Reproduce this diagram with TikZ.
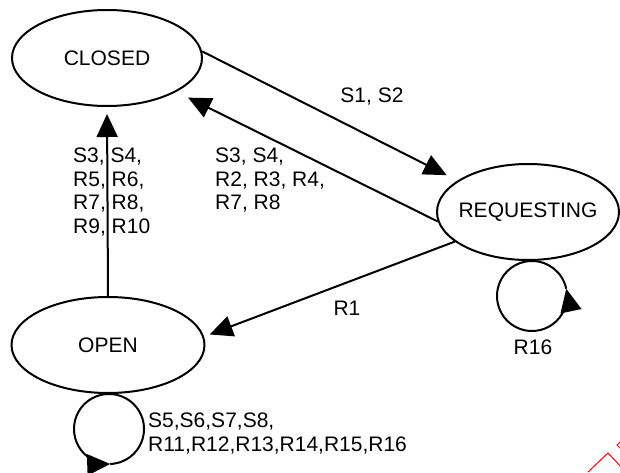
\documentclass[tikz,border=0pt]{standalone}
\usepackage{fontspec}
\setmainfont{Liberation Sans}
\usetikzlibrary{arrows.meta,shapes.geometric,positioning}

\begin{document}
\begin{tikzpicture}[x=1pt, y=1pt,
    font=\fontsize{21}{23.5}\selectfont,
    state/.style={draw, ellipse, line width=2pt, inner sep=0pt, minimum height=96pt},
    trans/.style={line width=2pt, -{Triangle[length=23pt,width=21pt]}},
    lbl/.style={inner sep=0pt, align=left}]
    \useasboundingbox (0,0) rectangle (620,472);
    \clip (0,0) rectangle (620,472);

    % Draw states.
    \node[state, minimum width=190pt, label=center:CLOSED] (closed) at (107,414) {};
    \node[state, minimum width=182pt, label=center:REQUESTING] (req) at (528,260) {};
    \node[state, minimum width=193pt, label=center:OPEN] (open) at (108,127) {};

    % Draw transitions.
    \draw[trans, shorten >=12pt] (closed.4) -- (req.156);
    \draw[trans, shorten >=13pt] (req.186) -- (closed.334);
    \draw[trans, shorten >=6pt] (req.202) -- (open.5);
    \draw[trans, shorten >=7pt] (open.north) -- (closed.south);

    % Draw self loops.
    \draw[trans] (req.south) ++(4,0) arc[start angle=90, end angle=372, radius=35];
    \draw[line width=2pt] (req.south) ++(4,0) arc[start angle=90, end angle=12, radius=35];
    \draw[trans] (open.south) ++(1,0) arc[start angle=90, end angle=272, radius=35];
    \draw[line width=2pt] (open.south) ++(1,0) arc[start angle=90, end angle=-88, radius=35];

    % Draw transition labels.
    \node (s12) at (372,375) {S1, S2};
    \node[lbl, anchor=north west] (rcl) at (215,324) {S3, S4,\\R2, R3, R4,\\R7, R8};
    \node[lbl, anchor=north west] (ocl) at (73,324) {S3, S4,\\R5, R6,\\R7, R8,\\R9, R10};
    \node (r1) at (347,164) {R1};
    \node (r16) at (533,125) {R16};
    \node[lbl, anchor=north west] (oloop) at (148,59) {S5,S6,S7,S8,\\R11,R12,R13,R14,R15,R16};

    % Red mark in the corner.
    \draw[red, line width=1pt] (588,0) -- (608,19) -- (622,4);
    \draw[red, line width=1pt] (621,31) -- (617,27) -- (621,23);
\end{tikzpicture}
\end{document}
